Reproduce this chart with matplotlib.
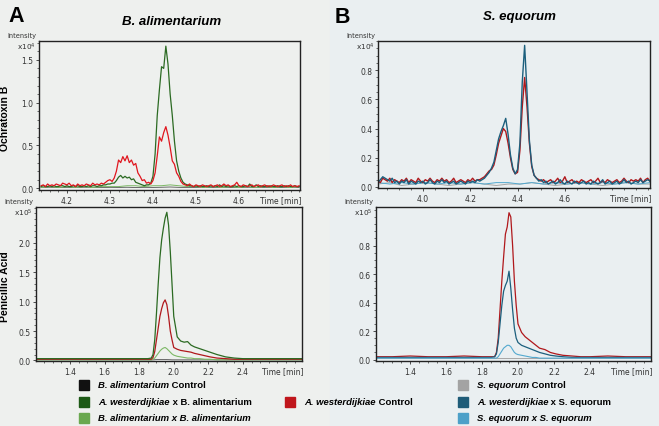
import numpy as np
import matplotlib
matplotlib.use("Agg")
import matplotlib.pyplot as plt
from matplotlib.patches import Rectangle

# ---- Ochratoxin B, B. alimentarium (x10^4), 0.005 min steps from 4.14
otb_a_start, otb_a_step = 4.14, 0.005
otb_a_red = [0.03, 0.04, 0.02, 0.05, 0.03, 0.04, 0.03, 0.05, 0.04, 0.03,
             0.06, 0.05, 0.04, 0.06, 0.03, 0.04, 0.02, 0.05, 0.03, 0.04,
             0.03, 0.05, 0.04, 0.03, 0.06, 0.04, 0.05, 0.04, 0.06, 0.05,
             0.07, 0.09,
             0.10, 0.08, 0.12, 0.20, 0.33, 0.30, 0.37, 0.32, 0.38, 0.30,
             0.33, 0.27, 0.29, 0.18, 0.14, 0.09, 0.10, 0.06, 0.07, 0.05,
             0.09, 0.18, 0.38, 0.60, 0.55, 0.65, 0.72, 0.62, 0.48, 0.32,
             0.28, 0.18, 0.14, 0.08, 0.05, 0.04, 0.03, 0.05,
             0.03, 0.02, 0.04, 0.03, 0.02, 0.04, 0.03, 0.02, 0.03, 0.04,
             0.02, 0.03, 0.04, 0.02, 0.03, 0.05, 0.03, 0.04, 0.02, 0.03,
             0.04, 0.07, 0.03, 0.02, 0.04, 0.03, 0.02, 0.03, 0.04, 0.02,
             0.03, 0.04, 0.02, 0.03, 0.04, 0.02, 0.03, 0.02, 0.04, 0.03,
             0.02, 0.03, 0.04, 0.02, 0.03, 0.02, 0.04, 0.02, 0.03, 0.02,
             0.03]
otb_a_green = [0.02, 0.03, 0.02, 0.02, 0.03, 0.02, 0.03, 0.02, 0.02, 0.03,
               0.03, 0.02, 0.03, 0.02, 0.02, 0.03, 0.02, 0.03, 0.02, 0.02,
               0.03, 0.02, 0.03, 0.02, 0.03, 0.03, 0.02, 0.03, 0.03, 0.04,
               0.04, 0.05,
               0.05, 0.06, 0.06, 0.09, 0.13, 0.15, 0.12, 0.14, 0.12, 0.13,
               0.10, 0.11, 0.07, 0.06, 0.05, 0.04, 0.03, 0.04, 0.04, 0.06,
               0.14, 0.40, 0.85, 1.15, 1.42, 1.40, 1.66, 1.45, 1.10, 0.85,
               0.55, 0.32, 0.20, 0.12, 0.07, 0.05, 0.04, 0.03,
               0.03, 0.02, 0.03, 0.02, 0.03, 0.02, 0.02, 0.03, 0.02, 0.03,
               0.02, 0.03, 0.02, 0.04, 0.02, 0.03, 0.02, 0.03, 0.02, 0.02,
               0.03, 0.02, 0.03, 0.02, 0.02, 0.03, 0.02, 0.05, 0.02, 0.02,
               0.04, 0.02, 0.03, 0.02, 0.02, 0.03, 0.02, 0.03, 0.02, 0.02,
               0.03, 0.02, 0.02, 0.03, 0.02, 0.03, 0.02, 0.02, 0.03, 0.02,
               0.02]
# coarse traces, 0.02 min steps from 4.14
otb_a_coarse_step = 0.02
otb_a_light = [0.01, 0.02, 0.01, 0.02, 0.01, 0.02, 0.01, 0.02, 0.02, 0.02,
               0.03, 0.03, 0.02, 0.03, 0.03, 0.04, 0.03, 0.02, 0.02, 0.01,
               0.02, 0.01, 0.02, 0.01, 0.02, 0.01, 0.02, 0.01, 0.02, 0.01,
               0.02]
otb_a_ctrl = [0.010, 0.012, 0.008, 0.011, 0.009, 0.012, 0.010, 0.008, 0.011, 0.010,
              0.012, 0.009, 0.011, 0.010, 0.012, 0.015, 0.011, 0.009, 0.010, 0.012,
              0.008, 0.011, 0.010, 0.009, 0.012, 0.010, 0.011, 0.009, 0.010, 0.012,
              0.010]

# ---- Ochratoxin B, S. equorum (x10^4), 0.01 min steps from 3.81
otb_s_start, otb_s_step = 3.81, 0.01
otb_s_teal = [0.03, 0.05, 0.07, 0.06, 0.05, 0.04, 0.06, 0.03, 0.04,
              0.02, 0.04, 0.03, 0.05, 0.02, 0.04, 0.03, 0.02, 0.04, 0.03,
              0.04, 0.02, 0.03, 0.05, 0.03, 0.02, 0.04, 0.03, 0.05, 0.03,
              0.04, 0.02, 0.03, 0.04, 0.02, 0.03, 0.04, 0.03, 0.02, 0.04,
              0.03, 0.04, 0.03, 0.05, 0.04, 0.05, 0.06, 0.08, 0.10, 0.13,
              0.17, 0.25, 0.33, 0.38, 0.42, 0.47, 0.36, 0.22, 0.13, 0.09,
              0.12, 0.30, 0.72, 0.97, 0.65, 0.32, 0.15, 0.08, 0.06, 0.04,
              0.05, 0.03, 0.04, 0.02, 0.03, 0.04, 0.02, 0.03, 0.05, 0.03,
              0.02, 0.04, 0.03, 0.02, 0.04, 0.03, 0.02, 0.03, 0.04, 0.02,
              0.03, 0.02, 0.04, 0.03, 0.02, 0.03, 0.05, 0.02, 0.03, 0.04,
              0.02, 0.03, 0.04, 0.02, 0.03, 0.05, 0.03, 0.04, 0.02, 0.03,
              0.04, 0.03, 0.05, 0.03, 0.04, 0.05, 0.04]
otb_s_red = [0.04, 0.03, 0.06, 0.05, 0.04, 0.06, 0.03, 0.05, 0.04,
             0.03, 0.05, 0.04, 0.06, 0.03, 0.05, 0.04, 0.03, 0.06, 0.04,
             0.03, 0.05, 0.04, 0.06, 0.04, 0.03, 0.05, 0.04, 0.06, 0.04,
             0.05, 0.03, 0.04, 0.06, 0.03, 0.04, 0.05, 0.04, 0.03, 0.05,
             0.04, 0.06, 0.04, 0.05, 0.05, 0.06, 0.07, 0.09, 0.11, 0.12,
             0.15, 0.22, 0.30, 0.35, 0.40, 0.38, 0.30, 0.20, 0.12, 0.09,
             0.10, 0.25, 0.55, 0.75, 0.55, 0.30, 0.14, 0.08, 0.06, 0.05,
             0.04, 0.05, 0.03, 0.04, 0.05, 0.03, 0.04, 0.06, 0.03, 0.04,
             0.07, 0.03, 0.04, 0.05, 0.03, 0.04, 0.03, 0.05, 0.04, 0.03,
             0.04, 0.05, 0.03, 0.04, 0.06, 0.03, 0.04, 0.03, 0.05, 0.04,
             0.03, 0.04, 0.05, 0.03, 0.04, 0.06, 0.04, 0.03, 0.05, 0.04,
             0.05, 0.04, 0.06, 0.03, 0.05, 0.06, 0.04]
# coarse traces, 0.05 min steps from 3.81
otb_s_coarse_step = 0.05
otb_s_grey = [0.02, 0.03, 0.01, 0.02, 0.03, 0.02, 0.01, 0.02, 0.03, 0.02, 0.01, 0.02,
              0.02, 0.03, 0.02, 0.01, 0.02, 0.03, 0.02, 0.01, 0.02, 0.03, 0.02, 0.02]
otb_s_light = [0.03, 0.02, 0.03, 0.02, 0.03, 0.02, 0.03, 0.02, 0.03, 0.02, 0.03, 0.03,
               0.02, 0.03, 0.02, 0.03, 0.02, 0.03, 0.02, 0.03, 0.02, 0.03, 0.02, 0.03]

# ---- Penicillic acid (x10^5), shared time points
pa_t = [1.21, 1.30, 1.40, 1.50, 1.60, 1.70, 1.80, 1.85, 1.87, 1.88,
        1.89, 1.90, 1.91, 1.92, 1.93, 1.94, 1.95, 1.96, 1.97, 1.98,
        1.99, 2.00, 2.02, 2.04, 2.06, 2.08, 2.10, 2.12, 2.15, 2.18,
        2.21, 2.25, 2.30, 2.35, 2.40, 2.50, 2.60, 2.74]
pa_a_green = [0.03, 0.03, 0.03, 0.03, 0.03, 0.03, 0.03, 0.03, 0.04, 0.10,
              0.35, 0.80, 1.30, 1.75, 2.05, 2.25, 2.42, 2.52, 2.30, 1.85,
              1.30, 0.75, 0.40, 0.33, 0.31, 0.32, 0.26, 0.23, 0.20, 0.17,
              0.14, 0.10, 0.06, 0.04, 0.03, 0.03, 0.03, 0.03]
pa_a_red = [0.02, 0.02, 0.02, 0.02, 0.02, 0.02, 0.02, 0.02, 0.02, 0.05,
            0.15, 0.35, 0.55, 0.75, 0.88, 0.98, 1.03, 0.95, 0.75, 0.50,
            0.35, 0.22, 0.19, 0.17, 0.16, 0.15, 0.14, 0.12, 0.10, 0.08,
            0.06, 0.04, 0.03, 0.02, 0.02, 0.02, 0.02, 0.02]
pa_a_light = [0.01, 0.01, 0.01, 0.01, 0.01, 0.01, 0.01, 0.01, 0.01, 0.02,
              0.04, 0.08, 0.12, 0.16, 0.19, 0.21, 0.22, 0.20, 0.17, 0.14,
              0.11, 0.09, 0.07, 0.06, 0.05, 0.04, 0.04, 0.03, 0.03, 0.02,
              0.02, 0.01, 0.01, 0.01, 0.01, 0.01, 0.01, 0.01]
pa_a_ctrl = [0.01] * 10 + [0.012, 0.014, 0.015, 0.016, 0.016, 0.016, 0.015, 0.014,
                           0.013, 0.012] + [0.01] * 18
pa_s_red = [0.02, 0.02, 0.025, 0.02, 0.02, 0.025, 0.02, 0.02, 0.02, 0.05,
            0.15, 0.35, 0.55, 0.72, 0.88, 0.93, 1.03, 1.00, 0.80, 0.55,
            0.38, 0.25, 0.19, 0.16, 0.14, 0.12, 0.10, 0.08, 0.07, 0.05,
            0.04, 0.03, 0.025, 0.02, 0.02, 0.025, 0.02, 0.02]
pa_s_teal = [0.015, 0.015, 0.015, 0.015, 0.015, 0.015, 0.015, 0.015, 0.02, 0.04,
             0.12, 0.25, 0.38, 0.48, 0.52, 0.55, 0.62, 0.50, 0.35, 0.22,
             0.15, 0.12, 0.10, 0.09, 0.08, 0.07, 0.06, 0.05, 0.04, 0.03,
             0.025, 0.02, 0.015, 0.015, 0.015, 0.015, 0.015, 0.015]
pa_s_light = [0.01, 0.01, 0.01, 0.01, 0.01, 0.01, 0.01, 0.01, 0.01, 0.01,
              0.02, 0.04, 0.06, 0.08, 0.09, 0.10, 0.10, 0.09, 0.07, 0.05,
              0.04, 0.035, 0.03, 0.025, 0.02, 0.015, 0.015, 0.01, 0.01, 0.01,
              0.01, 0.01, 0.01, 0.01, 0.01, 0.01, 0.01, 0.01]
pa_s_grey = [0.012] * 38

# colours
c_ctrl_a = "#555555"
c_green = "#2b6a22"
c_light_green = "#7cb865"
c_red_bright = "#e0161e"
c_red = "#b0181c"
c_teal = "#1c5f7d"
c_light_blue = "#53a9cf"
c_grey = "#a6a6a6"

plt.rcParams["font.family"] = "DejaVu Sans"
fig = plt.figure(figsize=(6.59, 4.27), dpi=100)
W, H = 659.0, 427.0

fig.add_artist(Rectangle((0, 0), 0.5, 1, transform=fig.transFigure,
                         color="#eef0ee", zorder=-10))
fig.add_artist(Rectangle((0.5, 0), 0.5, 1, transform=fig.transFigure,
                         color="#eaeff1", zorder=-10))


def box(l, t, r, b):
    return [l / W, 1 - b / H, (r - l) / W, (b - t) / H]


def style(ax, xticks, yticks, scale):
    ax.set_facecolor("none")
    for s in ax.spines.values():
        s.set_linewidth(1.0)
        s.set_color("#222222")
    ax.set_xticks(xticks)
    ax.set_xticklabels(["%.1f" % v for v in xticks])
    ax.set_yticks(yticks)
    ax.set_yticklabels(["%.1f" % v for v in yticks])
    ax.minorticks_on()
    ax.tick_params(which="major", length=2.5, width=0.6, labelsize=5.5, pad=1.5,
                   colors="#333333")
    ax.tick_params(which="minor", length=1.3, width=0.5, colors="#333333")
    ax.text(1.005, -0.035, "Time [min]", transform=ax.transAxes, ha="right",
            va="top", fontsize=5.5, color="#333333")
    ax.text(-0.012, 1.0, "x10$^{%d}$" % scale, transform=ax.transAxes, ha="right",
            va="top", fontsize=5.3, color="#333333")
    ax.text(-0.01, 1.02, "Intensity", transform=ax.transAxes, ha="right",
            va="bottom", fontsize=4.8, color="#333333")


# top-left
ax1 = fig.add_axes(box(39, 42, 300, 191))
t_fine = otb_a_start + otb_a_step * np.arange(len(otb_a_red))
t_coarse = otb_a_start + otb_a_coarse_step * np.arange(len(otb_a_light))
ax1.plot(t_coarse, otb_a_ctrl, color=c_ctrl_a, lw=0.6)
ax1.plot(t_coarse, otb_a_light, color=c_light_green, lw=0.7)
ax1.plot(t_fine, otb_a_green, color=c_green, lw=0.9)
ax1.plot(t_fine, otb_a_red, color=c_red_bright, lw=0.9)
ax1.set_xlim(4.135, 4.742)
ax1.set_ylim(-0.02, 1.72)
style(ax1, [4.2, 4.3, 4.4, 4.5, 4.6], [0.0, 0.5, 1.0, 1.5], 4)

# top-right
ax2 = fig.add_axes(box(378, 42, 650, 189))
t_fine = otb_s_start + otb_s_step * np.arange(len(otb_s_teal))
t_coarse = otb_s_start + otb_s_coarse_step * np.arange(len(otb_s_grey))
ax2.plot(t_coarse, otb_s_grey, color=c_grey, lw=0.7)
ax2.plot(t_coarse, otb_s_light, color=c_light_blue, lw=0.7)
ax2.plot(t_fine, otb_s_red, color=c_red, lw=1.0)
ax2.plot(t_fine, otb_s_teal, color=c_teal, lw=1.0)
ax2.set_xlim(3.81, 4.96)
ax2.set_ylim(-0.007, 1.0)
style(ax2, [4.0, 4.2, 4.4, 4.6], [0.0, 0.2, 0.4, 0.6, 0.8], 4)

# bottom-left
ax3 = fig.add_axes(box(36, 208, 302, 362))
ax3.plot(pa_t, pa_a_ctrl, color=c_ctrl_a, lw=0.6)
ax3.plot(pa_t, pa_a_light, color=c_light_green, lw=0.8)
ax3.plot(pa_t, pa_a_red, color=c_red, lw=0.9)
ax3.plot(pa_t, pa_a_green, color=c_green, lw=0.9)
ax3.set_xlim(1.203, 2.742)
ax3.set_ylim(-0.01, 2.61)
style(ax3, [1.4, 1.6, 1.8, 2.0, 2.2, 2.4], [0.0, 0.5, 1.0, 1.5, 2.0], 5)

# bottom-right
ax4 = fig.add_axes(box(376, 208, 651, 362))
ax4.plot(pa_t, pa_s_grey, color=c_grey, lw=0.7)
ax4.plot(pa_t, pa_s_red, color=c_red, lw=0.9)
ax4.plot(pa_t, pa_s_teal, color=c_teal, lw=0.9)
ax4.plot(pa_t, pa_s_light, color=c_light_blue, lw=0.8)
ax4.set_xlim(1.21, 2.74)
ax4.set_ylim(-0.01, 1.07)
style(ax4, [1.4, 1.6, 1.8, 2.0, 2.2, 2.4], [0.0, 0.2, 0.4, 0.6, 0.8], 5)

# panel letters, titles, row labels
sans = "Liberation Sans"
fig.text(8 / W, 1 - 22 / H, "A", fontsize=15.5, fontweight="bold", family=sans)
fig.text(335 / W, 1 - 23 / H, "B", fontsize=15.5, fontweight="bold", family=sans)
fig.text(172 / W, 1 - 22 / H, "B. alimentarium", fontsize=9.5, fontweight="bold",
         style="italic", family=sans, ha="center", va="center")
fig.text(519 / W, 1 - 17 / H, "S. equorum", fontsize=9.5, fontweight="bold",
         style="italic", family=sans, ha="center", va="center")
fig.text(5 / W, 1 - 118 / H, "Ochratoxin B", fontsize=7.5, fontweight="bold",
         family=sans, rotation=90, ha="center", va="center")
fig.text(5 / W, 1 - 287 / H, "Penicillic Acid", fontsize=7.5, fontweight="bold",
         family=sans, rotation=90, ha="center", va="center")

# legend (drawn by hand: irregular three-column layout)
legend_items = [
    (79, 386, "#111111", "B. alimentarium", " Control"),
    (79, 403, "#1d5a16", "A. westerdijkiae", " x B. alimentarium"),
    (79, 419, "#6aa84f", "B. alimentarium x B. alimentarium", ""),
    (285, 403, "#c0161c", "A. westerdijkiae", " Control"),
    (458, 386, "#a3a3a3", "S. equorum", " Control"),
    (458, 403, "#1f5c78", "A. westerdijkiae", " x S. equorum"),
    (458, 419, "#4da0c8", "S. equorum x S. equorum", ""),
]
renderer = fig.canvas.get_renderer()
for x, y, col, ital, rest in legend_items:
    fig.add_artist(Rectangle((x / W, 1 - (y + 5) / H), 10 / W, 10 / H,
                             transform=fig.transFigure, color=col))
    t1 = fig.text((x + 19) / W, 1 - y / H, ital, fontsize=6.8, fontweight="bold",
                  style="italic", family=sans, va="center")
    if rest:
        bb = t1.get_window_extent(renderer)
        fig.text(bb.x1 / W, 1 - y / H, rest, fontsize=6.8, fontweight="bold",
                 family=sans, va="center")

fig.savefig("out.png", dpi=100)
